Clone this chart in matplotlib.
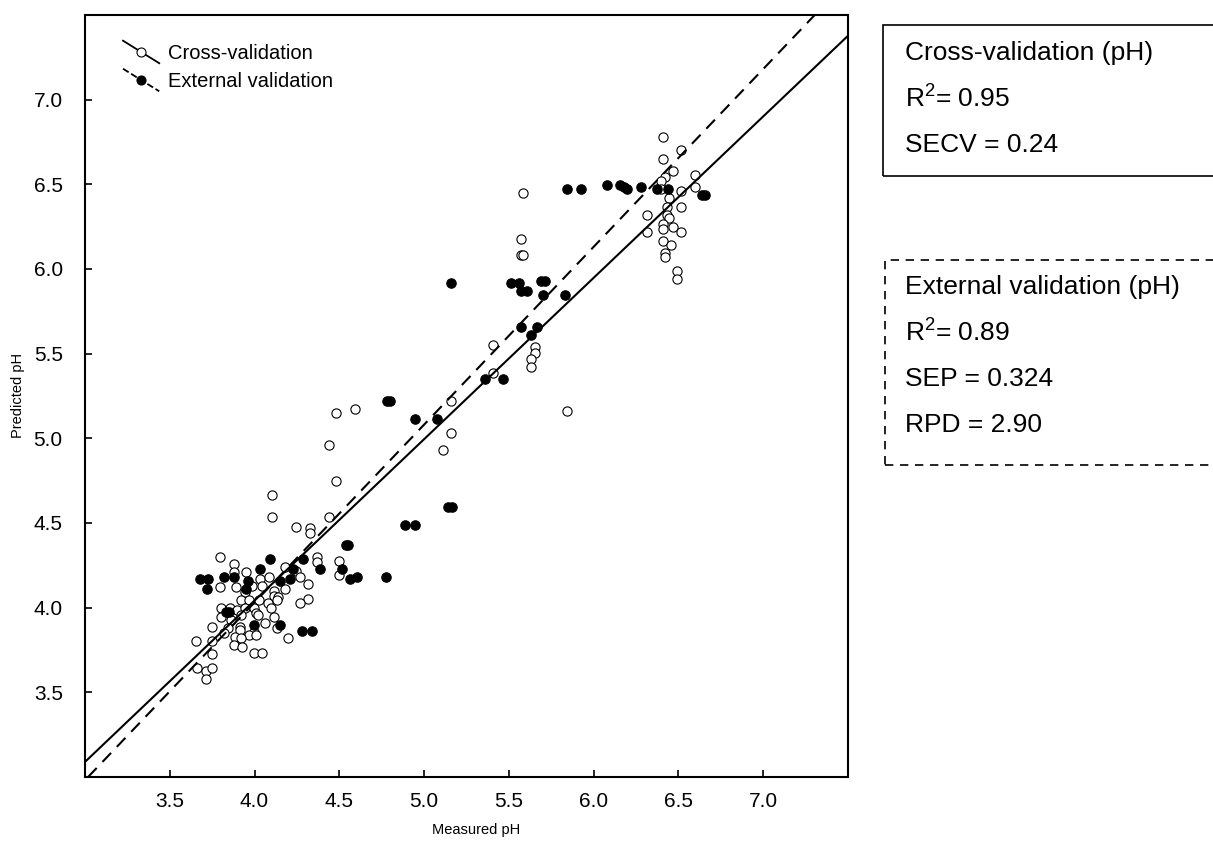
import matplotlib
matplotlib.use("Agg")
import matplotlib.pyplot as plt
from matplotlib.lines import Line2D
from matplotlib.patches import Rectangle
from matplotlib.legend_handler import HandlerBase

plt.rcParams['font.family'] = ['Liberation Sans', 'DejaVu Sans']
plt.rcParams['mathtext.fontset'] = 'custom'
plt.rcParams['mathtext.rm'] = 'Liberation Sans'
plt.rcParams['mathtext.it'] = 'Liberation Sans'

# ---------------- data ----------------
cv_measured = [
    6.409, 6.515, 6.409, 6.466, 6.421, 6.397, 6.595, 6.595, 6.397, 6.515,
    6.442, 6.431, 6.515, 6.313, 6.431, 6.442, 6.409, 6.409, 6.466, 6.313,
    6.515, 6.409, 6.454, 6.421, 6.421, 6.489, 6.489,
    5.584, 5.572, 5.572, 5.584, 5.405, 5.405, 5.654, 5.654, 5.631, 5.631,
    5.842, 5.160, 5.160, 5.113,
    4.478, 4.595, 4.441, 4.478, 4.101, 4.101, 4.441, 4.244, 4.326, 4.326,
    3.794, 3.878, 3.878, 3.948, 4.371, 4.371, 4.500, 4.500, 4.181, 4.244,
    4.313, 4.313,
    4.031, 4.087, 4.268, 4.181, 3.797, 3.891, 3.984, 4.042, 3.944, 4.115,
    4.115, 4.140, 3.921, 3.969, 4.028, 4.078, 4.132, 4.266, 3.805, 3.858,
    3.899, 3.946, 3.999, 4.009, 4.097, 3.803, 3.862, 3.921, 4.019, 4.113,
    4.064, 3.750, 3.846, 3.913, 3.913, 4.132, 3.999, 3.822, 3.969, 4.009,
    3.887, 3.921, 4.195, 3.654, 3.750, 3.878, 3.925, 3.995, 4.044, 3.750,
    3.658, 3.715, 3.750, 3.715,
]
cv_predicted = [
    6.779, 6.705, 6.648, 6.578, 6.543, 6.519, 6.555, 6.484, 6.475, 6.460,
    6.422, 6.366, 6.366, 6.317, 6.317, 6.304, 6.268, 6.235, 6.248, 6.216,
    6.216, 6.166, 6.140, 6.095, 6.071, 5.988, 5.939,
    6.449, 6.177, 6.083, 6.083, 5.550, 5.387, 5.540, 5.505, 5.469, 5.422,
    5.163, 5.222, 5.033, 4.931,
    5.151, 5.173, 4.963, 4.750, 4.667, 4.537, 4.537, 4.478, 4.469, 4.443,
    4.301, 4.258, 4.213, 4.213, 4.302, 4.267, 4.278, 4.195, 4.242, 4.217,
    4.137, 4.052,
    4.170, 4.180, 4.180, 4.111, 4.122, 4.122, 4.128, 4.128, 4.091, 4.101,
    4.069, 4.062, 4.046, 4.046, 4.046, 4.026, 4.046, 4.030, 3.997, 4.000,
    3.987, 3.997, 3.997, 3.967, 3.997, 3.947, 3.928, 3.957, 3.957, 3.947,
    3.912, 3.888, 3.879, 3.888, 3.869, 3.879, 3.859, 3.849, 3.839, 3.839,
    3.829, 3.820, 3.820, 3.806, 3.806, 3.780, 3.770, 3.735, 3.735, 3.725,
    3.643, 3.627, 3.643, 3.580,
]

ev_measured = [
    3.678, 3.725, 3.722, 3.819, 3.876, 3.960, 3.950, 4.032, 4.091, 4.150,
    4.209, 4.229, 4.288, 4.384, 4.516, 4.564, 4.607, 4.774, 3.832, 3.852,
    3.999, 4.150, 4.278, 4.338, 4.538, 4.554, 4.779, 4.800, 4.947, 5.078,
    5.142, 5.166, 4.889, 4.946, 5.160, 5.513, 5.558, 5.572, 5.607, 5.689,
    5.715, 5.701, 5.828, 5.842, 5.925, 6.076, 6.156, 6.176, 6.197, 6.278,
    6.372, 6.441, 6.636, 6.656, 5.572, 5.666, 5.631, 5.360, 5.466,
]
ev_predicted = [
    4.170, 4.170, 4.111, 4.183, 4.183, 4.160, 4.111, 4.229, 4.288, 4.160,
    4.170, 4.229, 4.288, 4.229, 4.229, 4.170, 4.183, 4.183, 3.972, 3.972,
    3.898, 3.898, 3.865, 3.865, 4.370, 4.370, 5.222, 5.222, 5.114, 5.114,
    4.596, 4.596, 4.488, 4.488, 5.918, 5.918, 5.918, 5.870, 5.870, 5.930,
    5.930, 5.845, 5.845, 6.472, 6.472, 6.497, 6.497, 6.482, 6.471, 6.483,
    6.471, 6.471, 6.435, 6.435, 5.656, 5.656, 5.609, 5.351, 5.351,
]

# regression lines (slope, intercept)
cv_fit = (0.953, 0.230)
ev_fit = (1.050, -0.169)

legend_labels = ["Cross-validation", "External validation"]
cv_box_lines = ["Cross-validation (pH)", r"R$^{2}$= 0.95", "SECV = 0.24"]
ev_box_lines = ["External validation (pH)", r"R$^{2}$= 0.89", "SEP = 0.324", "RPD = 2.90"]

x_ticks = [3.5, 4.0, 4.5, 5.0, 5.5, 6.0, 6.5, 7.0]
y_ticks = [3.5, 4.0, 4.5, 5.0, 5.5, 6.0, 6.5, 7.0]

# ---------------- figure ----------------
W, H = 1213, 850
fig = plt.figure(figsize=(W / 100, H / 100), dpi=100)
ax = fig.add_axes([85 / W, 1 - 777 / H, (848 - 85) / W, (777 - 15) / H])

ax.scatter(cv_measured, cv_predicted, s=44, facecolors='white', edgecolors='black',
           linewidths=0.8, zorder=3)
ax.scatter(ev_measured, ev_predicted, s=46, facecolors='black', edgecolors='black',
           linewidths=0.8, zorder=3)

ax.axline((0, cv_fit[1]), slope=cv_fit[0], color='black', lw=1.5, zorder=4)
ax.axline((0, ev_fit[1]), slope=ev_fit[0], color='black', lw=1.5, ls=(0, (6, 4)), zorder=4)

ax.set_xlim(3.0, 7.5)
ax.set_ylim(3.0, 7.5)
ax.set_xticks(x_ticks)
ax.set_yticks(y_ticks)
ax.set_xticklabels([f"{t:.1f}" for t in x_ticks])
ax.set_yticklabels([f"{t:.1f}" for t in y_ticks])
ax.tick_params(direction='in', length=5, width=1.2, labelsize=15)
ax.tick_params(axis='x', pad=11)
ax.tick_params(axis='y', pad=16)
for sp in ax.spines.values():
    sp.set_linewidth(1.5)

fig.text(476 / W, 1 - 830 / H, "Measured pH", ha='center', va='center', fontsize=10.5)
fig.text(18 / W, 1 - 395 / H, "Predicted pH", ha='center', va='center', fontsize=10.5,
         rotation=90)


class DiagHandler(HandlerBase):
    def create_artists(self, legend, orig_handle, xdescent, ydescent, width, height,
                       fontsize, trans):
        x0, y0 = -xdescent, -ydescent
        ext = height * 0.3
        ln = Line2D([x0, x0 + width], [y0 + height + ext, y0 - ext], color='black',
                    lw=1.3, linestyle=orig_handle.get_linestyle(), transform=trans)
        mk = Line2D([x0 + width / 2], [y0 + height / 2], marker='o', markersize=6.5,
                    markerfacecolor=orig_handle.get_markerfacecolor(),
                    markeredgecolor='black', markeredgewidth=0.8, linestyle='none',
                    transform=trans)
        return [ln, mk]


h1 = Line2D([], [], linestyle='-', marker='o', markerfacecolor='white')
h2 = Line2D([], [], linestyle=(0, (4, 4)), marker='o', markerfacecolor='black')
ax.legend([h1, h2], legend_labels, handler_map={Line2D: DiagHandler()},
          loc='upper left', bbox_to_anchor=((123 - 85) / 763, (777 - 44) / 762),
          frameon=False, fontsize=14.5, borderpad=0, borderaxespad=0,
          handlelength=1.8, handletextpad=0.45, labelspacing=0.45)

# stat boxes (extend past right edge like the reference)
fig.patches.append(Rectangle((883 / W, 1 - 176 / H), 400 / W, (176 - 25) / H,
                             transform=fig.transFigure, fill=False, lw=1.2,
                             edgecolor='black', clip_on=False))
fig.patches.append(Rectangle((885 / W, 1 - 465 / H), 400 / W, (465 - 260) / H,
                             transform=fig.transFigure, fill=False, lw=1.2,
                             ls=(0, (5, 4)), edgecolor='black', clip_on=False))
for i, t in enumerate(cv_box_lines):
    fig.text(905 / W, 1 - (53 + 46 * i) / H, t, ha='left', va='center', fontsize=19)
for i, t in enumerate(ev_box_lines):
    fig.text(905 / W, 1 - (287 + 46 * i) / H, t, ha='left', va='center', fontsize=19)

fig.savefig("out.png", dpi=100)
